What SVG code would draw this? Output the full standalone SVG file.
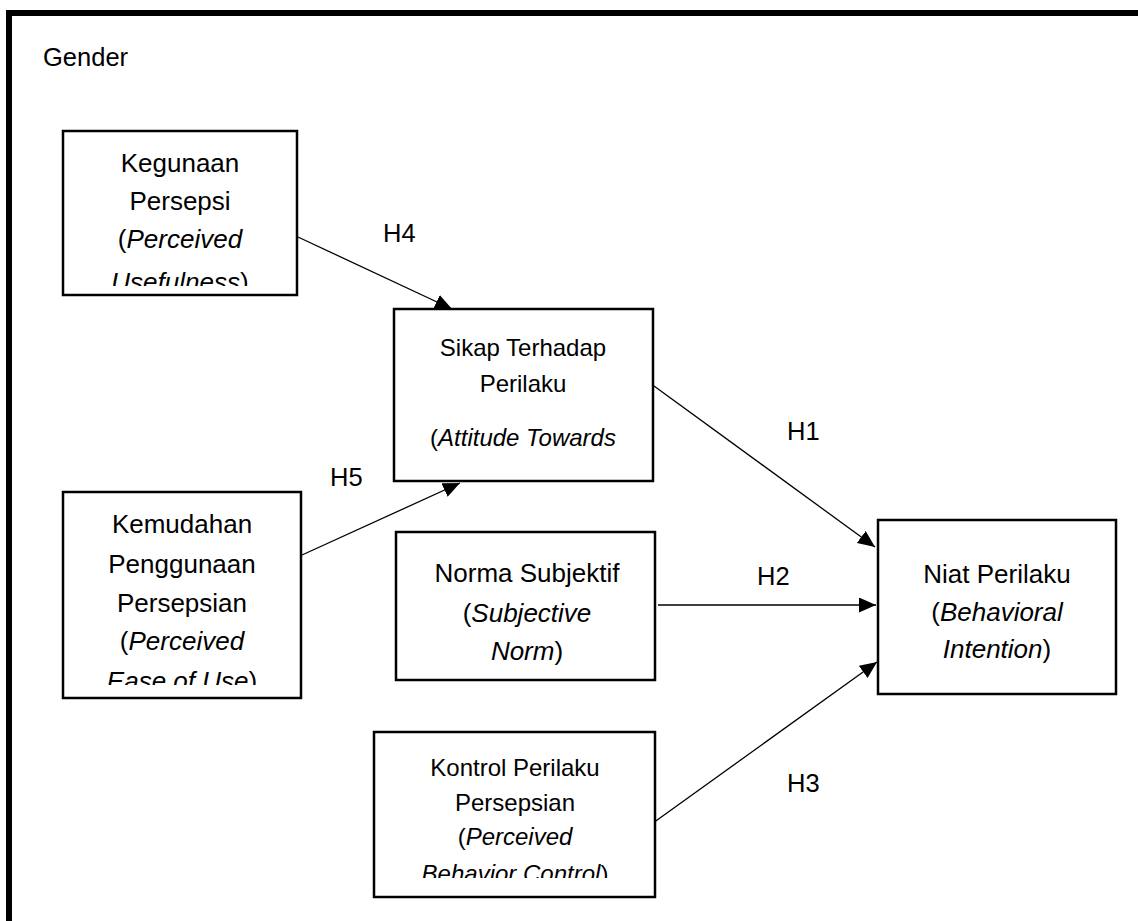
<svg xmlns="http://www.w3.org/2000/svg" width="1138" height="921" viewBox="0 0 1138 921">
<style>
  .box { fill: #ffffff; stroke: #000000; stroke-width: 2.5; }
  .t { font-family: "Liberation Sans", Arial, sans-serif; font-size: 26px; fill: #000000; text-anchor: middle; }
  .s { font-size: 24px; }
  .lbl { font-family: "Liberation Sans", Arial, sans-serif; font-size: 25.5px; fill: #000000; }
  .c { stroke: #000000; stroke-width: 1.3; fill: none; marker-end: url(#arrow); }
</style>
<defs>
  <marker id="arrow" markerUnits="userSpaceOnUse" markerWidth="17" markerHeight="15" refX="17" refY="7.5" orient="auto">
    <path d="M0,0 L17,7.5 L0,15 z" fill="#000000"/>
  </marker>
  <clipPath id="clipK"><rect x="63" y="131" width="234" height="155"/></clipPath>
  <clipPath id="clipE"><rect x="63" y="492" width="238" height="193"/></clipPath>
  <clipPath id="clipC"><rect x="374" y="732" width="281" height="146"/></clipPath>
  <clipPath id="clipS"><rect x="394" y="309" width="259" height="150"/></clipPath>
</defs>
<rect x="0" y="0" width="1138" height="921" fill="#ffffff"/>
<rect x="9" y="13" width="1140" height="920" fill="none" stroke="#000000" stroke-width="6"/>
<text class="lbl" x="43" y="66">Gender</text>

<g id="connectors">
  <line class="c" x1="298" y1="237" x2="452" y2="309"/>
  <line class="c" x1="302" y1="555" x2="460" y2="483"/>
  <line class="c" x1="654" y1="386" x2="875" y2="547"/>
  <line class="c" x1="658" y1="605" x2="876" y2="605"/>
  <line class="c" x1="653" y1="823" x2="877" y2="662"/>
  <text class="lbl" x="383" y="242">H4</text>
  <text class="lbl" x="330" y="486">H5</text>
  <text class="lbl" x="787" y="440">H1</text>
  <text class="lbl" x="757" y="585">H2</text>
  <text class="lbl" x="787" y="792">H3</text>
</g>

<g id="node-kegunaan">
  <rect class="box" x="63" y="131" width="234" height="164"/>
  <g clip-path="url(#clipK)">
    <text class="t" x="180" y="172">Kegunaan</text>
    <text class="t" x="180" y="210">Persepsi</text>
    <text class="t" x="180" y="248">(<tspan font-style="italic">Perceived</tspan></text>
    <text class="t" x="180" y="291"><tspan font-style="italic">Usefulness</tspan>)</text>
  </g>
</g>

<g id="node-sikap">
  <rect class="box" x="394" y="309" width="259" height="172"/>
  <g clip-path="url(#clipS)">
    <text class="t s" x="523" y="356">Sikap Terhadap</text>
    <text class="t s" x="523" y="392">Perilaku</text>
    <text class="t s" x="523" y="446">(<tspan font-style="italic">Attitude Towards</tspan></text>
  </g>
</g>

<g id="node-kemudahan">
  <rect class="box" x="63" y="492" width="238" height="206"/>
  <g clip-path="url(#clipE)">
    <text class="t" x="182" y="533">Kemudahan</text>
    <text class="t" x="182" y="573">Penggunaan</text>
    <text class="t" x="182" y="612">Persepsian</text>
    <text class="t" x="182" y="650">(<tspan font-style="italic">Perceived</tspan></text>
    <text class="t" x="182" y="690"><tspan font-style="italic">Ease of Use</tspan>)</text>
  </g>
</g>

<g id="node-norma">
  <rect class="box" x="396" y="532" width="259" height="148"/>
  <text class="t" x="527" y="582">Norma Subjektif</text>
  <text class="t" x="527" y="622">(<tspan font-style="italic">Subjective</tspan></text>
  <text class="t" x="527" y="660"><tspan font-style="italic">Norm</tspan>)</text>
</g>

<g id="node-niat">
  <rect class="box" x="878" y="520" width="238" height="174"/>
  <text class="t" x="997" y="583">Niat Perilaku</text>
  <text class="t" x="997" y="621">(<tspan font-style="italic">Behavioral</tspan></text>
  <text class="t" x="997" y="658"><tspan font-style="italic">Intention</tspan>)</text>
</g>

<g id="node-kontrol">
  <rect class="box" x="374" y="732" width="281" height="165"/>
  <g clip-path="url(#clipC)">
    <text class="t s" x="515" y="776">Kontrol Perilaku</text>
    <text class="t s" x="515" y="811">Persepsian</text>
    <text class="t s" x="515" y="845">(<tspan font-style="italic">Perceived</tspan></text>
    <text class="t s" x="515" y="882"><tspan font-style="italic">Behavior Control</tspan>)</text>
  </g>
</g>
</svg>
